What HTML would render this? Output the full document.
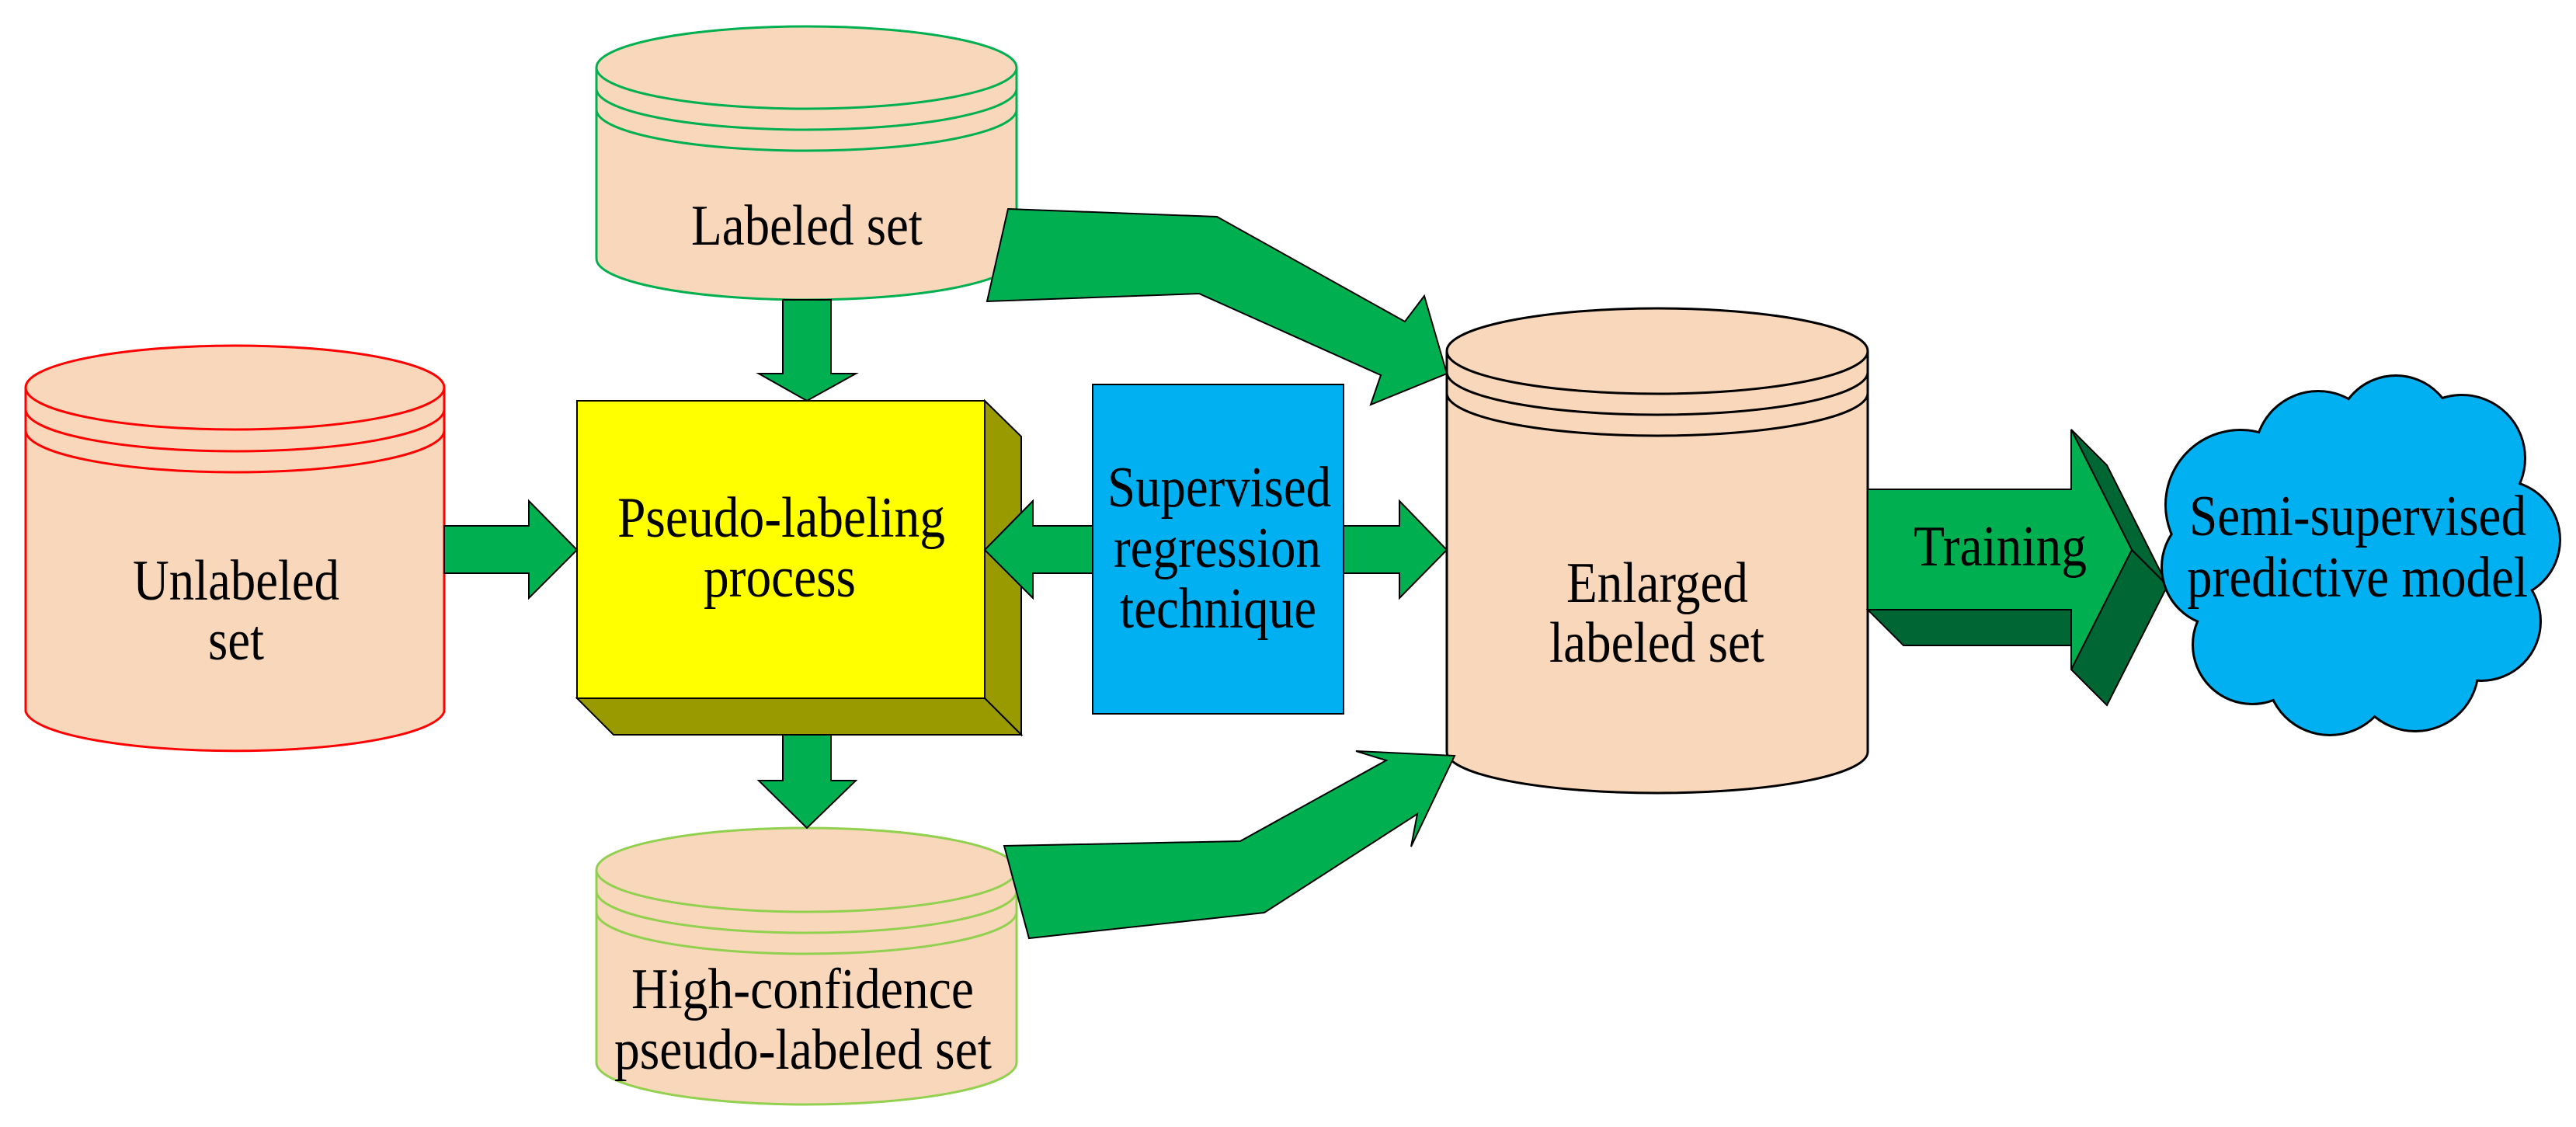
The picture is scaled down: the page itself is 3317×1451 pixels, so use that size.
<!DOCTYPE html>
<html><head><meta charset="utf-8"><style>html,body{margin:0;padding:0;background:#fff}svg{display:block}text{font-family:"Liberation Serif",serif;font-size:74px;fill:#000}</style></head>
<body>
<svg width="3317" height="1451" viewBox="0 0 3317 1451" xmlns="http://www.w3.org/2000/svg">
<g stroke-width="3">
<!-- Unlabeled -->
<g stroke="#ff0000" fill="#f9d7bb">
<path d="M33,499 V916 A270,54 0 0 0 572,916 V499"/>
<ellipse cx="302.5" cy="499" rx="269.5" ry="54"/>
<path d="M33,499 A269.5,54 0 0 0 572,499" fill="none" transform="translate(0,28)"/>
<path d="M33,499 A269.5,54 0 0 0 572,499" fill="none" transform="translate(0,55)"/>
</g>
<!-- Labeled -->
<g stroke="#00b050" fill="#f9d7bb">
<path d="M768,87 V333 A270.5,53 0 0 0 1309,333 V87"/>
<ellipse cx="1038.5" cy="87" rx="270.5" ry="53"/>
<path d="M768,87 A270.5,53 0 0 0 1309,87" fill="none" transform="translate(0,27)"/>
<path d="M768,87 A270.5,53 0 0 0 1309,87" fill="none" transform="translate(0,54)"/>
</g>
<!-- High confidence -->
<g stroke="#92d050" fill="#f9d7bb">
<path d="M768,1120 V1368 A270.5,54 0 0 0 1309,1368 V1120"/>
<ellipse cx="1038.5" cy="1120" rx="270.5" ry="54"/>
<path d="M768,1120 A270.5,54 0 0 0 1309,1120" fill="none" transform="translate(0,27)"/>
<path d="M768,1120 A270.5,54 0 0 0 1309,1120" fill="none" transform="translate(0,54)"/>
</g>
<!-- Enlarged -->
<g stroke="#000" fill="#f9d7bb">
<path d="M1863,452 V968 A271,53 0 0 0 2405,968 V452"/>
<ellipse cx="2134" cy="452" rx="271" ry="55"/>
<path d="M1863,452 A271,55 0 0 0 2405,452" fill="none" transform="translate(0,27)"/>
<path d="M1863,452 A271,55 0 0 0 2405,452" fill="none" transform="translate(0,54)"/>
</g>
<!-- Pseudo box -->
<g stroke="#000" stroke-width="2">
<polygon points="1268,516 1315,562 1315,946 1268,899" fill="#999900"/>
<polygon points="743,899 1268,899 1315,946 790,946" fill="#999900"/>
<rect x="743" y="516" width="525" height="383" fill="#ffff00"/>
<rect x="1407" y="495" width="323" height="424" fill="#00b0f0"/>
</g>
<!-- arrows -->
<g fill="#00b050" stroke="#000" stroke-width="2">
<polygon points="1008,386 1070,386 1070,481 1102,481 1039,516 977,481 1008,481"/>
<polygon points="1008,946 1070,946 1070,1005 1102,1005 1039,1066 977,1005 1008,1005"/>
<polygon points="572,677 681,677 681,645 743,708 681,770 681,738 572,738"/>
<polygon points="1407,677 1330,677 1330,645 1268,708 1330,770 1330,738 1407,738"/>
<polygon points="1730,677 1802,677 1802,645 1863,708 1802,770 1802,738 1730,738"/>
<polygon points="1298,269 1567,279 1809,414 1834,381 1863,481 1765,521 1778,483 1544,378 1271,388"/>
<polygon points="1293,1089 1597,1083 1785,979 1746,967 1873,973 1817,1090 1825,1048 1628,1175 1325,1208"/>
</g>
<!-- Training arrow -->
<g stroke="#000" stroke-width="2">
<polygon points="2405,785 2451,831 2667,831 2667,785" fill="#006633"/>
<polygon points="2667,553 2713,599 2791,754 2745,708" fill="#006633"/>
<polygon points="2745,708 2791,754 2713,908 2667,862" fill="#006633"/>
<polygon points="2405,630 2667,630 2667,553 2745,708 2667,862 2667,785 2405,785" fill="#00b050"/>
</g>
<!-- Cloud -->
<g fill="#00b0f0">
<g stroke="#000" stroke-width="6">
<circle cx="2885" cy="650" r="95"/><circle cx="2985" cy="585" r="80"/><circle cx="3085" cy="560" r="75"/><circle cx="3170" cy="590" r="80"/><circle cx="3220" cy="695" r="75"/><circle cx="3195" cy="800" r="75"/><circle cx="3110" cy="860" r="80"/><circle cx="3000" cy="865" r="80"/><circle cx="2900" cy="830" r="75"/><circle cx="2860" cy="730" r="75"/>
</g>
<circle cx="2885" cy="650" r="95"/><circle cx="2985" cy="585" r="80"/><circle cx="3085" cy="560" r="75"/><circle cx="3170" cy="590" r="80"/><circle cx="3220" cy="695" r="75"/><circle cx="3195" cy="800" r="75"/><circle cx="3110" cy="860" r="80"/><circle cx="3000" cy="865" r="80"/><circle cx="2900" cy="830" r="75"/><circle cx="2860" cy="730" r="75"/>
<circle cx="3035" cy="710" r="165"/>
</g>
</g>
<g>
<text x="171" y="772" textLength="266" lengthAdjust="spacingAndGlyphs">Unlabeled</text>
<text x="268" y="849" textLength="72" lengthAdjust="spacingAndGlyphs">set</text>
<text x="890" y="315" textLength="298" lengthAdjust="spacingAndGlyphs">Labeled set</text>
<text x="795" y="691" textLength="422" lengthAdjust="spacingAndGlyphs">Pseudo-labeling</text>
<text x="906" y="768" textLength="196" lengthAdjust="spacingAndGlyphs">process</text>
<text x="1426" y="652" textLength="288" lengthAdjust="spacingAndGlyphs">Supervised</text>
<text x="1434" y="730" textLength="267" lengthAdjust="spacingAndGlyphs">regression</text>
<text x="1442" y="808" textLength="253" lengthAdjust="spacingAndGlyphs">technique</text>
<text x="813" y="1298" textLength="441" lengthAdjust="spacingAndGlyphs">High-confidence</text>
<text x="791" y="1376" textLength="486" lengthAdjust="spacingAndGlyphs">pseudo-labeled set</text>
<text x="2017" y="775" textLength="234" lengthAdjust="spacingAndGlyphs">Enlarged</text>
<text x="1995" y="852" textLength="277" lengthAdjust="spacingAndGlyphs">labeled set</text>
<text x="2464" y="728" textLength="223" lengthAdjust="spacingAndGlyphs">Training</text>
<text x="2819" y="689" textLength="434" lengthAdjust="spacingAndGlyphs">Semi-supervised</text>
<text x="2816" y="768" textLength="439" lengthAdjust="spacingAndGlyphs">predictive model</text>
</g>
</svg>
</body></html>
